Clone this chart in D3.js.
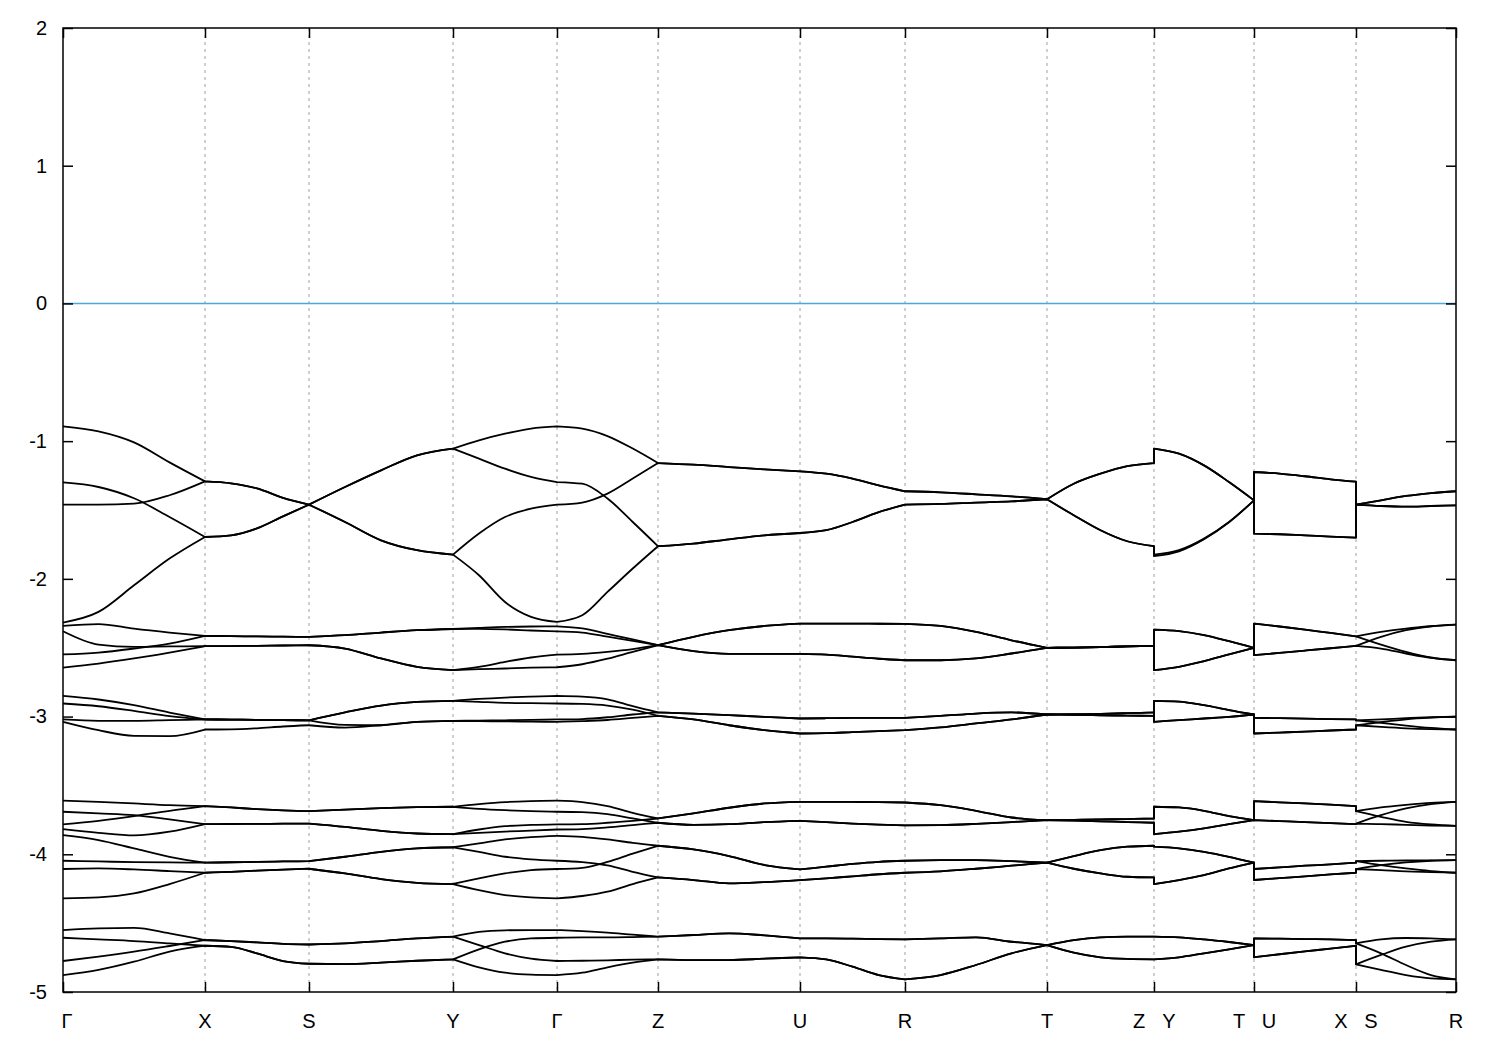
<!DOCTYPE html>
<html><head><meta charset="utf-8">
<script src="https://cdn.jsdelivr.net/npm/d3@7"></script>
<style>body{margin:0;background:#fff}text{font-family:"Liberation Sans",Arial,sans-serif}</style>
</head><body>
<svg id="chart" width="1500" height="1050"></svg>
<script>
// high-symmetry k-path positions and labels
const kTicks = [0, 1.42, 2.46, 3.90, 4.94, 5.95, 7.37, 8.42, 9.84, 10.91, 11.91, 12.93, 13.93];
const kLabels = ["Γ","X","S","Y","Γ","Z","U","R","T","Z Y","T U","X S","R"];
const yTicks = [2, 1, 0, -1, -2, -3, -4, -5];
const fermiLevel = 0;

// each band: 12 path segments (ΓX, XS, SY, YΓ, ΓZ, ZU, UR, RT, TZ, YT, UX, SR), 5 energies (eV) per segment
const bandsGroup1 = [
 [[-0.893,-0.929,-1.009,-1.154,-1.292],[-1.292,-1.306,-1.343,-1.412,-1.461],[-1.461,-1.587,-1.720,-1.792,-1.824],[-1.824,-1.671,-1.551,-1.490,-1.461],[-1.461,-1.446,-1.381,-1.272,-1.159],[-1.159,-1.171,-1.188,-1.205,-1.219],[-1.219,-1.236,-1.272,-1.321,-1.364],[-1.364,-1.372,-1.386,-1.401,-1.422],[-1.422,-1.309,-1.236,-1.181,-1.159],[-1.054,-1.091,-1.176,-1.297,-1.430],[-1.224,-1.236,-1.255,-1.277,-1.294],[-1.461,-1.430,-1.398,-1.377,-1.364]],
 [[-1.300,-1.333,-1.415,-1.551,-1.696],[-1.696,-1.684,-1.633,-1.546,-1.461],[-1.461,-1.333,-1.212,-1.103,-1.054],[-1.054,-0.994,-0.946,-0.909,-0.893],[-0.893,-0.909,-0.963,-1.054,-1.159],[-1.159,-1.171,-1.188,-1.205,-1.219],[-1.219,-1.236,-1.272,-1.321,-1.364],[-1.364,-1.372,-1.386,-1.401,-1.422],[-1.422,-1.309,-1.236,-1.181,-1.159],[-1.054,-1.091,-1.176,-1.297,-1.430],[-1.224,-1.236,-1.255,-1.277,-1.294],[-1.461,-1.430,-1.398,-1.377,-1.364]],
 [[-1.461,-1.461,-1.454,-1.393,-1.292],[-1.292,-1.306,-1.343,-1.412,-1.461],[-1.461,-1.587,-1.720,-1.792,-1.824],[-1.824,-1.974,-2.168,-2.276,-2.313],[-2.313,-2.264,-2.095,-1.925,-1.763],[-1.763,-1.744,-1.713,-1.684,-1.667],[-1.667,-1.647,-1.587,-1.515,-1.461],[-1.461,-1.456,-1.446,-1.437,-1.422],[-1.422,-1.538,-1.647,-1.727,-1.763],[-1.824,-1.792,-1.708,-1.587,-1.430],[-1.671,-1.676,-1.684,-1.693,-1.700],[-1.461,-1.471,-1.476,-1.471,-1.466]],
 [[-2.317,-2.240,-2.047,-1.853,-1.696],[-1.696,-1.684,-1.633,-1.546,-1.461],[-1.461,-1.333,-1.212,-1.103,-1.054],[-1.054,-1.127,-1.200,-1.260,-1.297],[-1.297,-1.309,-1.417,-1.587,-1.763],[-1.763,-1.744,-1.713,-1.684,-1.667],[-1.667,-1.647,-1.587,-1.515,-1.461],[-1.461,-1.456,-1.446,-1.437,-1.422],[-1.422,-1.538,-1.647,-1.727,-1.763],[-1.835,-1.800,-1.712,-1.589,-1.430],[-1.671,-1.676,-1.684,-1.693,-1.700],[-1.461,-1.471,-1.476,-1.471,-1.466]]
];
const bandsGroup2 = [
 [[-2.342,-2.328,-2.362,-2.390,-2.414],[-2.414,-2.416,-2.418,-2.420,-2.421],[-2.421,-2.409,-2.390,-2.373,-2.364],[-2.364,-2.356,-2.349,-2.346,-2.345],[-2.345,-2.360,-2.400,-2.440,-2.482],[-2.482,-2.421,-2.373,-2.342,-2.325],[-2.325,-2.325,-2.325,-2.326,-2.327],[-2.327,-2.342,-2.385,-2.446,-2.501],[-2.501,-2.499,-2.495,-2.491,-2.487],[-2.369,-2.380,-2.409,-2.453,-2.501],[-2.325,-2.346,-2.368,-2.393,-2.417],[-2.417,-2.385,-2.361,-2.344,-2.332]],
 [[-2.380,-2.477,-2.494,-2.491,-2.489],[-2.489,-2.488,-2.486,-2.484,-2.482],[-2.482,-2.506,-2.578,-2.639,-2.663],[-2.663,-2.639,-2.603,-2.571,-2.550],[-2.550,-2.545,-2.530,-2.510,-2.482],[-2.482,-2.525,-2.545,-2.545,-2.545],[-2.545,-2.550,-2.565,-2.580,-2.591],[-2.591,-2.591,-2.578,-2.542,-2.501],[-2.501,-2.499,-2.495,-2.491,-2.487],[-2.663,-2.639,-2.598,-2.549,-2.501],[-2.554,-2.538,-2.521,-2.504,-2.487],[-2.487,-2.421,-2.373,-2.344,-2.332]],
 [[-2.549,-2.535,-2.506,-2.470,-2.414],[-2.414,-2.416,-2.418,-2.420,-2.421],[-2.421,-2.409,-2.390,-2.373,-2.364],[-2.364,-2.363,-2.367,-2.375,-2.382],[-2.382,-2.390,-2.420,-2.450,-2.482],[-2.482,-2.421,-2.373,-2.342,-2.325],[-2.325,-2.325,-2.325,-2.326,-2.327],[-2.327,-2.342,-2.385,-2.446,-2.501],[-2.501,-2.499,-2.495,-2.491,-2.487],[-2.369,-2.380,-2.409,-2.453,-2.501],[-2.325,-2.346,-2.368,-2.393,-2.417],[-2.417,-2.477,-2.530,-2.571,-2.591]],
 [[-2.644,-2.615,-2.578,-2.535,-2.489],[-2.489,-2.488,-2.486,-2.484,-2.482],[-2.482,-2.506,-2.578,-2.639,-2.663],[-2.663,-2.656,-2.651,-2.645,-2.642],[-2.642,-2.620,-2.580,-2.530,-2.482],[-2.482,-2.525,-2.545,-2.545,-2.545],[-2.545,-2.550,-2.565,-2.580,-2.591],[-2.591,-2.591,-2.578,-2.542,-2.501],[-2.501,-2.499,-2.495,-2.491,-2.487],[-2.663,-2.639,-2.598,-2.549,-2.501],[-2.554,-2.538,-2.521,-2.504,-2.487],[-2.487,-2.506,-2.542,-2.574,-2.591]]
];
const bandsGroup3 = [
 [[-2.850,-2.876,-2.917,-2.971,-3.021],[-3.021,-3.022,-3.024,-3.026,-3.027],[-3.027,-2.970,-2.920,-2.894,-2.886],[-2.886,-2.872,-2.862,-2.855,-2.850],[-2.850,-2.855,-2.875,-2.925,-2.970],[-2.970,-2.978,-2.990,-3.002,-3.014],[-3.014,-3.012,-3.010,-3.009,-3.009],[-3.009,-2.995,-2.978,-2.970,-2.985],[-2.985,-2.983,-2.980,-2.975,-2.970],[-2.886,-2.891,-2.917,-2.953,-2.985],[-3.009,-3.012,-3.015,-3.018,-3.021],[-3.027,-3.020,-3.012,-3.005,-3.000]],
 [[-2.905,-2.925,-2.959,-2.997,-3.021],[-3.021,-3.022,-3.024,-3.026,-3.027],[-3.027,-2.970,-2.920,-2.894,-2.886],[-2.886,-2.893,-2.900,-2.903,-2.905],[-2.905,-2.908,-2.920,-2.950,-2.995],[-2.995,-3.021,-3.063,-3.099,-3.123],[-3.123,-3.120,-3.113,-3.106,-3.099],[-3.099,-3.079,-3.050,-3.021,-2.985],[-2.985,-2.988,-2.991,-2.993,-2.995],[-2.886,-2.891,-2.917,-2.953,-2.985],[-3.009,-3.012,-3.015,-3.018,-3.021],[-3.027,-3.045,-3.065,-3.082,-3.094]],
 [[-3.021,-3.031,-3.031,-3.026,-3.021],[-3.021,-3.022,-3.024,-3.026,-3.027],[-3.027,-3.060,-3.063,-3.038,-3.031],[-3.031,-3.029,-3.027,-3.024,-3.021],[-3.021,-3.018,-3.005,-2.985,-2.970],[-2.970,-2.978,-2.990,-3.002,-3.014],[-3.014,-3.012,-3.010,-3.009,-3.009],[-3.009,-2.995,-2.978,-2.970,-2.985],[-2.985,-2.983,-2.980,-2.975,-2.970],[-3.038,-3.026,-3.014,-3.002,-2.985],[-3.123,-3.116,-3.109,-3.101,-3.094],[-3.063,-3.040,-3.020,-3.008,-3.000]],
 [[-3.038,-3.099,-3.140,-3.142,-3.094],[-3.094,-3.093,-3.085,-3.072,-3.063],[-3.063,-3.080,-3.063,-3.038,-3.031],[-3.031,-3.033,-3.035,-3.037,-3.038],[-3.038,-3.033,-3.025,-3.010,-2.995],[-2.995,-3.021,-3.063,-3.099,-3.123],[-3.123,-3.120,-3.113,-3.106,-3.099],[-3.099,-3.079,-3.050,-3.021,-2.985],[-2.985,-2.988,-2.991,-2.993,-2.995],[-3.038,-3.026,-3.014,-3.002,-2.985],[-3.123,-3.116,-3.109,-3.101,-3.094],[-3.063,-3.075,-3.085,-3.091,-3.094]]
];
const bandsGroup4 = [
 [[-3.611,-3.619,-3.631,-3.643,-3.650],[-3.650,-3.660,-3.672,-3.681,-3.687],[-3.687,-3.675,-3.665,-3.658,-3.655],[-3.655,-3.636,-3.621,-3.614,-3.611],[-3.611,-3.621,-3.650,-3.699,-3.740],[-3.740,-3.703,-3.662,-3.631,-3.619],[-3.619,-3.619,-3.620,-3.621,-3.624],[-3.624,-3.643,-3.684,-3.733,-3.752],[-3.752,-3.750,-3.747,-3.744,-3.740],[-3.655,-3.660,-3.684,-3.723,-3.752],[-3.614,-3.623,-3.631,-3.640,-3.650],[-3.687,-3.660,-3.641,-3.626,-3.619]],
 [[-3.783,-3.757,-3.723,-3.684,-3.650],[-3.650,-3.660,-3.672,-3.681,-3.687],[-3.687,-3.675,-3.665,-3.658,-3.655],[-3.655,-3.670,-3.680,-3.687,-3.691],[-3.691,-3.694,-3.708,-3.740,-3.771],[-3.771,-3.786,-3.781,-3.766,-3.757],[-3.757,-3.767,-3.777,-3.785,-3.790],[-3.790,-3.788,-3.779,-3.766,-3.752],[-3.752,-3.750,-3.747,-3.744,-3.740],[-3.655,-3.660,-3.684,-3.723,-3.752],[-3.614,-3.623,-3.631,-3.640,-3.650],[-3.687,-3.728,-3.764,-3.783,-3.793]],
 [[-3.691,-3.703,-3.716,-3.747,-3.781],[-3.781,-3.780,-3.779,-3.778,-3.777],[-3.777,-3.801,-3.830,-3.849,-3.854],[-3.854,-3.820,-3.796,-3.787,-3.783],[-3.783,-3.781,-3.771,-3.757,-3.740],[-3.740,-3.703,-3.662,-3.631,-3.619],[-3.619,-3.619,-3.620,-3.621,-3.624],[-3.624,-3.643,-3.684,-3.733,-3.752],[-3.752,-3.756,-3.761,-3.766,-3.771],[-3.854,-3.836,-3.812,-3.781,-3.752],[-3.752,-3.759,-3.766,-3.774,-3.781],[-3.777,-3.716,-3.667,-3.636,-3.619]],
 [[-3.817,-3.844,-3.863,-3.836,-3.781],[-3.781,-3.780,-3.779,-3.778,-3.777],[-3.777,-3.801,-3.830,-3.849,-3.854],[-3.854,-3.844,-3.835,-3.828,-3.820],[-3.820,-3.817,-3.805,-3.788,-3.771],[-3.771,-3.786,-3.781,-3.766,-3.757],[-3.757,-3.767,-3.777,-3.785,-3.790],[-3.790,-3.788,-3.779,-3.766,-3.752],[-3.752,-3.756,-3.761,-3.766,-3.771],[-3.854,-3.836,-3.812,-3.781,-3.752],[-3.752,-3.759,-3.766,-3.774,-3.781],[-3.777,-3.781,-3.786,-3.791,-3.793]]
];
const bandsGroup5 = [
 [[-3.861,-3.897,-3.957,-4.018,-4.061],[-4.061,-4.058,-4.055,-4.052,-4.050],[-4.050,-4.018,-3.982,-3.957,-3.949],[-3.949,-3.921,-3.892,-3.875,-3.866],[-3.866,-3.873,-3.892,-3.917,-3.938],[-3.938,-3.965,-4.013,-4.078,-4.110],[-4.110,-4.090,-4.070,-4.055,-4.047],[-4.047,-4.043,-4.043,-4.050,-4.061],[-4.061,-4.013,-3.970,-3.945,-3.938],[-3.945,-3.957,-3.982,-4.018,-4.061],[-4.107,-4.095,-4.083,-4.073,-4.061],[-4.050,-4.047,-4.045,-4.044,-4.043]],
 [[-4.047,-4.052,-4.057,-4.059,-4.061],[-4.061,-4.058,-4.055,-4.052,-4.050],[-4.050,-4.018,-3.982,-3.957,-3.949],[-3.949,-3.982,-4.018,-4.037,-4.047],[-4.047,-4.057,-4.081,-4.127,-4.168],[-4.168,-4.187,-4.211,-4.202,-4.187],[-4.187,-4.175,-4.160,-4.145,-4.134],[-4.134,-4.124,-4.105,-4.083,-4.061],[-4.061,-4.013,-3.970,-3.945,-3.938],[-3.945,-3.957,-3.982,-4.018,-4.061],[-4.107,-4.095,-4.083,-4.073,-4.061],[-4.050,-4.079,-4.103,-4.122,-4.134]],
 [[-4.107,-4.103,-4.110,-4.122,-4.134],[-4.134,-4.127,-4.119,-4.111,-4.105],[-4.105,-4.139,-4.180,-4.207,-4.216],[-4.216,-4.175,-4.139,-4.115,-4.107],[-4.107,-4.098,-4.055,-3.995,-3.938],[-3.938,-3.965,-4.013,-4.078,-4.110],[-4.110,-4.090,-4.070,-4.055,-4.047],[-4.047,-4.043,-4.043,-4.050,-4.061],[-4.061,-4.105,-4.139,-4.163,-4.168],[-4.216,-4.187,-4.151,-4.103,-4.061],[-4.187,-4.173,-4.161,-4.146,-4.134],[-4.107,-4.079,-4.059,-4.047,-4.043]],
 [[-4.320,-4.313,-4.284,-4.216,-4.134],[-4.134,-4.127,-4.119,-4.111,-4.105],[-4.105,-4.139,-4.180,-4.207,-4.216],[-4.216,-4.260,-4.296,-4.313,-4.320],[-4.320,-4.303,-4.272,-4.216,-4.168],[-4.168,-4.187,-4.211,-4.202,-4.187],[-4.187,-4.175,-4.160,-4.145,-4.134],[-4.134,-4.124,-4.105,-4.083,-4.061],[-4.061,-4.105,-4.139,-4.163,-4.168],[-4.216,-4.187,-4.151,-4.103,-4.061],[-4.187,-4.173,-4.161,-4.146,-4.134],[-4.107,-4.115,-4.124,-4.129,-4.134]]
];
const bandsGroup6 = [
 [[-4.550,-4.538,-4.535,-4.574,-4.623],[-4.623,-4.630,-4.640,-4.650,-4.655],[-4.655,-4.647,-4.630,-4.611,-4.598],[-4.598,-4.564,-4.552,-4.550,-4.550],[-4.550,-4.558,-4.569,-4.584,-4.598],[-4.598,-4.586,-4.574,-4.589,-4.611],[-4.611,-4.611,-4.613,-4.616,-4.618],[-4.618,-4.611,-4.603,-4.635,-4.659],[-4.659,-4.623,-4.603,-4.598,-4.598],[-4.598,-4.603,-4.618,-4.637,-4.659],[-4.611,-4.613,-4.616,-4.618,-4.623],[-4.647,-4.618,-4.608,-4.611,-4.618]],
 [[-4.606,-4.618,-4.630,-4.647,-4.664],[-4.664,-4.672,-4.720,-4.775,-4.795],[-4.795,-4.797,-4.787,-4.773,-4.763],[-4.763,-4.690,-4.635,-4.611,-4.606],[-4.606,-4.603,-4.603,-4.601,-4.598],[-4.598,-4.586,-4.574,-4.589,-4.611],[-4.611,-4.611,-4.613,-4.616,-4.618],[-4.618,-4.611,-4.603,-4.635,-4.659],[-4.659,-4.623,-4.603,-4.598,-4.598],[-4.598,-4.603,-4.618,-4.637,-4.659],[-4.611,-4.613,-4.616,-4.618,-4.623],[-4.647,-4.719,-4.804,-4.877,-4.908]],
 [[-4.775,-4.743,-4.707,-4.666,-4.623],[-4.623,-4.630,-4.640,-4.650,-4.655],[-4.655,-4.647,-4.630,-4.611,-4.598],[-4.598,-4.659,-4.719,-4.758,-4.775],[-4.775,-4.773,-4.770,-4.765,-4.763],[-4.763,-4.768,-4.768,-4.758,-4.748],[-4.748,-4.763,-4.816,-4.877,-4.908],[-4.908,-4.877,-4.804,-4.719,-4.659],[-4.659,-4.714,-4.748,-4.760,-4.763],[-4.763,-4.748,-4.719,-4.690,-4.659],[-4.748,-4.726,-4.705,-4.685,-4.664],[-4.799,-4.731,-4.671,-4.635,-4.618]],
 [[-4.877,-4.840,-4.780,-4.707,-4.664],[-4.664,-4.672,-4.720,-4.775,-4.795],[-4.795,-4.797,-4.787,-4.773,-4.763],[-4.763,-4.821,-4.860,-4.874,-4.877],[-4.877,-4.860,-4.821,-4.787,-4.763],[-4.763,-4.768,-4.768,-4.758,-4.748],[-4.748,-4.763,-4.816,-4.877,-4.908],[-4.908,-4.877,-4.804,-4.719,-4.659],[-4.659,-4.714,-4.748,-4.760,-4.763],[-4.763,-4.748,-4.719,-4.690,-4.659],[-4.748,-4.726,-4.705,-4.685,-4.664],[-4.799,-4.840,-4.877,-4.901,-4.908]]
];

const allBands = [].concat(bandsGroup1, bandsGroup2, bandsGroup3, bandsGroup4, bandsGroup5, bandsGroup6);

const margin = {left: 63, right: 44, top: 28, bottom: 58};
const W = 1500, H = 1050;
const svg = d3.select("#chart");
const x = d3.scaleLinear().domain([kTicks[0], kTicks[kTicks.length - 1]]).range([margin.left, W - margin.right]);
const y = d3.scaleLinear().domain([-5, 2]).range([H - margin.bottom, margin.top]);

// vertical dashed grid at interior high-symmetry points
svg.append("g").selectAll("line").data(kTicks.slice(1, -1)).join("line")
  .attr("x1", d => x(d)).attr("x2", d => x(d))
  .attr("y1", y(2)).attr("y2", y(-5))
  .attr("stroke", "#a0a0a0").attr("stroke-width", 1).attr("stroke-dasharray", "3,4");

// Fermi level
svg.append("line")
  .attr("x1", x.range()[0]).attr("x2", x.range()[1])
  .attr("y1", y(fermiLevel)).attr("y2", y(fermiLevel))
  .attr("stroke", "#4aa8e0").attr("stroke-width", 1.6);

// bands
const segLine = d3.line().x(d => x(d[0])).y(d => y(d[1])).curve(d3.curveMonotoneX);
function bandPath(band) {
  let d = "";
  band.forEach((seg, i) => {
    const k0 = kTicks[i], k1 = kTicks[i + 1];
    const pts = seg.map((e, j) => [k0 + (k1 - k0) * j / (seg.length - 1), e]);
    const p = segLine(pts);
    d += i === 0 ? p : p.replace(/^M/, "L");
  });
  return d;
}
svg.append("g").selectAll("path").data(allBands).join("path")
  .attr("d", bandPath)
  .attr("fill", "none").attr("stroke", "#000").attr("stroke-width", 1.8)
  .attr("stroke-linejoin", "round");

// axes
const yAxisL = d3.axisLeft(y).tickValues(yTicks).tickSize(-10).tickSizeOuter(0).tickPadding(16).tickFormat(d => String(d));
const gL = svg.append("g").attr("transform", `translate(${x.range()[0]},0)`).call(yAxisL);
gL.select(".domain").remove();
gL.selectAll("text").attr("font-size", 20).attr("font-family", "Liberation Sans, Arial, sans-serif").attr("fill", "#000");
gL.selectAll("line").attr("stroke", "#000").attr("stroke-width", 1.5);

const yAxisR = d3.axisRight(y).tickValues(yTicks).tickSize(-10).tickSizeOuter(0).tickFormat("");
const gR = svg.append("g").attr("transform", `translate(${x.range()[1]},0)`).call(yAxisR);
gR.select(".domain").remove();
gR.selectAll("line").attr("stroke", "#000").attr("stroke-width", 1.5);

const xAxisB = d3.axisBottom(x).tickValues(kTicks).tickSize(-10).tickSizeOuter(0).tickFormat("");
const gB = svg.append("g").attr("transform", `translate(0,${y(-5)})`).call(xAxisB);
gB.select(".domain").remove();
gB.selectAll("line").attr("stroke", "#000").attr("stroke-width", 1.5);

const xAxisT = d3.axisTop(x).tickValues(kTicks).tickSize(-10).tickSizeOuter(0).tickFormat("");
const gT = svg.append("g").attr("transform", `translate(0,${y(2)})`).call(xAxisT);
gT.select(".domain").remove();
gT.selectAll("line").attr("stroke", "#000").attr("stroke-width", 1.5);

// k labels (split double labels at path breaks)
const labelG = svg.append("g");
kTicks.forEach((k, i) => {
  const parts = kLabels[i].split(" ");
  const offs = parts.length === 2 ? [-15, 15] : [0];
  parts.forEach((p, j) => {
    labelG.append("text")
      .attr("x", x(k) + offs[j] + (i === 0 ? 4 : 0))
      .attr("y", y(-5) + 36)
      .attr("text-anchor", "middle")
      .attr("font-size", 20)
      .attr("font-family", p === "Γ" ? "Liberation Serif, DejaVu Serif, serif" : "Liberation Sans, Arial, sans-serif")
      .attr("fill", "#000")
      .text(p);
  });
});

// frame
svg.append("rect")
  .attr("x", x.range()[0]).attr("y", y(2))
  .attr("width", x.range()[1] - x.range()[0]).attr("height", y(-5) - y(2))
  .attr("fill", "none").attr("stroke", "#000").attr("stroke-width", 1.5);
</script>
</body></html>
